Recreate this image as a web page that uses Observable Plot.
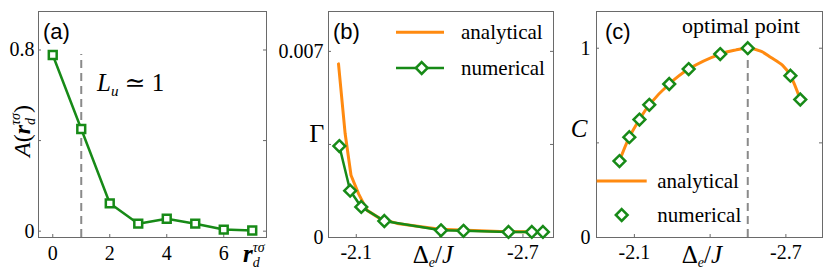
<!DOCTYPE html>
<html><head><meta charset="utf-8">
<script src="https://cdn.jsdelivr.net/npm/d3@7"></script>
<script src="https://cdn.jsdelivr.net/npm/@observablehq/plot@0.6"></script>
<style>
body{margin:0;background:#fff}
#wrap{position:relative;width:830px;height:272px;overflow:hidden;background:#fff}
.panel{position:absolute;top:0}
#wrap svg, #wrap text{font-family:"Liberation Serif","DejaVu Serif",serif}
#wrap text.sans{font-family:"Liberation Sans",Arial,sans-serif}
</style></head><body><div id="wrap"></div>
<script>
// ---------- data ----------
// panel (a)
const aDist = [0, 1, 2, 3, 4, 5, 6, 7];
const aCorr = [0.778, 0.451, 0.123, 0.033, 0.055, 0.033, 0.007, 0.003];
const aXTickLabels = [0, 2, 4, 6];
const aYTickLabels = [0, 0.8];
const aYTickMarks = [0, 0.4, 0.8];
const aLu = [1];
const aLuTop = 0.78;
// panel (b)
const bNumDelta = [-2.039, -2.078, -2.118, -2.201, -2.405, -2.486, -2.648, -2.732, -2.772];
const bNumGamma = [0.00344, 0.00176, 0.00115, 0.00062, 0.00027, 0.00025, 0.00021, 0.00021, 0.00021];
const bAnaDelta = [-2.036, -2.060, -2.081, -2.108, -2.139, -2.186, -2.247, -2.294, -2.402, -2.618, -2.772];
const bAnaGamma = [0.00653, 0.00390, 0.00234, 0.00165, 0.00102, 0.00071, 0.00053, 0.00046, 0.00031, 0.00023, 0.00021];
const bXTickLabels = [-2.1, -2.7];
const bXTickMarks = [-2.1, -2.4, -2.7];
const bYTickLabels = [0, 0.007];
const bYTickMarks = [0, 0.0035, 0.007];
// panel (c)
const cNumDelta = [-2.041, -2.080, -2.120, -2.159, -2.238, -2.315, -2.440, -2.549, -2.718, -2.757];
const cNumC = [0.404, 0.530, 0.623, 0.701, 0.811, 0.890, 0.969, 1.0, 0.855, 0.729];
const cAnaDelta = [-2.041, -2.080, -2.120, -2.159, -2.238, -2.315, -2.440, -2.500, -2.549, -2.600, -2.641, -2.687, -2.718, -2.757];
const cAnaC = [0.404, 0.530, 0.623, 0.701, 0.811, 0.890, 0.969, 0.990, 1.0, 0.985, 0.951, 0.909, 0.855, 0.729];
const cOptimal = [-2.549];
const cXTickLabels = [-2.1, -2.7];
const cXTickMarks = [-2.1, -2.4, -2.7];
const cYTickLabels = [0, 1];
const cYTickMarks = [0, 0.5, 1];

// ---------- style ----------
const GREEN = "#178a17", ORANGE = "#ff8a10", FRAME = "#6a6a6a", DASH = "#8a8a8a";
const SERIF = "Liberation Serif, 'DejaVu Serif', serif";
const SANS = "Liberation Sans, Arial, sans-serif";
const H = 272, MT = 11, MB = 35, IH = H - MT - MB;

const zip = (xs, ys) => xs.map((x, i) => ({x, y: ys[i]}));
const fmt = d => String(d);

function tickMarks(xMarks, yMarks, iw) {
  return [
    Plot.tickX(xMarks, {x: d => d, insetTop: IH - 3, stroke: FRAME}),
    Plot.tickY(yMarks, {y: d => d, insetRight: iw - 3, stroke: FRAME}),
    Plot.tickY(yMarks, {y: d => d, insetLeft: iw - 3, stroke: FRAME})
  ];
}
const baseStyle = {background: "transparent", fontFamily: SERIF, fontSize: "20px", color: "#000", overflow: "visible"};

function place(svg, left) {
  const div = document.createElement("div");
  div.className = "panel";
  div.style.left = left + "px";
  div.appendChild(svg);
  document.getElementById("wrap").appendChild(div);
  return d3.select(svg);
}
function rich(sel, x, y, parts, opts = {}) {
  const t = sel.append("text").attr("x", x).attr("y", y)
    .attr("font-family", opts.family || SERIF).attr("font-size", opts.size || 24)
    .attr("fill", "#000").attr("text-anchor", opts.anchor || "start");
  if (opts.family === SANS) t.attr("class", "sans");
  if (opts.transform) t.attr("transform", opts.transform).attr("x", 0).attr("y", 0);
  if (opts.baseline) t.attr("dominant-baseline", opts.baseline);
  for (const p of parts) {
    const s = t.append("tspan").text(p.t);
    if (p.i) s.attr("font-style", "italic");
    if (p.s) s.attr("font-size", p.s);
    if (p.dy) s.attr("dy", p.dy);
    if (p.dx) s.attr("dx", p.dx);
    if (p.w) s.attr("font-weight", p.w);
  }
  return t;
}

// ---------- panel (a) ----------
{
  const W = 270, ML = 38, MR = 4, IW = W - ML - MR;
  const pts = zip(aDist, aCorr);
  const svg = Plot.plot({
    width: W, height: H, marginLeft: ML, marginRight: MR, marginTop: MT, marginBottom: MB,
    style: baseStyle,
    x: {domain: [-0.5, 7.5], ticks: aXTickLabels, tickSize: 0, tickPadding: 8, tickFormat: fmt, label: null},
    y: {domain: [-0.028, 0.97], ticks: aYTickLabels, tickSize: 0, tickPadding: 4, tickFormat: fmt, label: null},
    marks: [
      Plot.frame({stroke: FRAME}),
      ...tickMarks(aXTickLabels, aYTickMarks, IW),
      Plot.ruleX(aLu, {x: d => d, y1: -0.028, y2: aLuTop, stroke: DASH, strokeWidth: 2, strokeDasharray: "8,5"}),
      Plot.line(pts, {x: "x", y: "y", stroke: GREEN, strokeWidth: 2.5}),
      Plot.dot(pts, {x: "x", y: "y", symbol: "square2", r: 5, stroke: GREEN, strokeWidth: 2.5, fill: "white"})
    ]
  });
  const s = place(svg, 0);
  rich(s, 43, 39, [{t: "(a)"}], {family: SANS, size: 22});
  rich(s, 0, 0, [{t: "A", i: 1}, {t: "("}, {t: "r", i: 1, w: "bold"}, {t: "d", i: 1, s: 14, dy: 5}, {t: "τσ", i: 1, s: 14, dy: -15, dx: -7}, {t: ")", dy: 10}],
    {size: 24, anchor: "middle", transform: "translate(30,131) rotate(-90)"});
  rich(s, 97, 91, [{t: "L", i: 1}, {t: "u", i: 1, s: 15, dy: 5}, {t: " ≃ 1", dy: -5}], {size: 25});
  rich(s, 243, 262, [{t: "r", i: 1, w: "bold"}, {t: "d", i: 1, s: 14, dy: 5}, {t: "τσ", i: 1, s: 14, dy: -15, dx: -7}], {size: 25});
}

// ---------- panel (b) ----------
{
  const W = 290, ML = 58, MR = 7, IW = W - ML - MR;
  const ana = zip(bAnaDelta, bAnaGamma), num = zip(bNumDelta, bNumGamma);
  const svg = Plot.plot({
    width: W, height: H, marginLeft: ML, marginRight: MR, marginTop: MT, marginBottom: MB,
    style: baseStyle,
    x: {domain: [-2.0, -2.81], ticks: bXTickLabels, tickSize: 0, tickPadding: 7, tickFormat: fmt, label: null},
    y: {domain: [0, 0.0085], ticks: bYTickLabels, tickSize: 0, tickPadding: 5, tickFormat: fmt, label: null},
    marks: [
      Plot.frame({stroke: FRAME}),
      ...tickMarks(bXTickMarks, bYTickMarks, IW),
      Plot.line(ana, {x: "x", y: "y", stroke: ORANGE, strokeWidth: 3}),
      Plot.line(num, {x: "x", y: "y", stroke: GREEN, strokeWidth: 2.5}),
      Plot.dot(num, {x: "x", y: "y", symbol: "diamond2", r: 5.3, stroke: GREEN, strokeWidth: 2.5, fill: "white"})
    ]
  });
  const s = place(svg, 270);
  rich(s, 63, 39, [{t: "(b)"}], {family: SANS, size: 22});
  rich(s, 46.7, 141.7, [{t: "Γ"}], {size: 26, anchor: "middle"});
  rich(s, 142.7, 263, [{t: "Δ"}, {t: "e", i: 1, s: 14, dy: 4}, {t: "/", dy: -4}, {t: "J", i: 1}], {size: 25});
  // legend
  s.append("line").attr("x1", 126).attr("x2", 174).attr("y1", 32.3).attr("y2", 32.3).attr("stroke", ORANGE).attr("stroke-width", 3);
  s.append("line").attr("x1", 126).attr("x2", 174).attr("y1", 68).attr("y2", 68).attr("stroke", GREEN).attr("stroke-width", 2.5);
  s.append("path").attr("d", d3.symbol(d3.symbolDiamond2, Math.PI * 5.3 * 5.3)()).attr("transform", "translate(151.7,68)")
    .attr("stroke", GREEN).attr("stroke-width", 2.5).attr("fill", "white");
  rich(s, 191, 32, [{t: "analytical"}], {size: 21, baseline: "central"});
  rich(s, 191, 68, [{t: "numerical"}], {size: 21, baseline: "central"});
}

// ---------- panel (c) ----------
{
  const W = 270, ML = 36, MR = 8, IW = W - ML - MR;
  const ana = zip(cAnaDelta, cAnaC), num = zip(cNumDelta, cNumC);
  const svg = Plot.plot({
    width: W, height: H, marginLeft: ML, marginRight: MR, marginTop: MT, marginBottom: MB,
    style: baseStyle,
    x: {domain: [-1.95, -2.845], ticks: cXTickLabels, tickSize: 0, tickPadding: 7, tickFormat: fmt, label: null},
    y: {domain: [0, 1.194], ticks: cYTickLabels, tickSize: 0, tickPadding: 6, tickFormat: fmt, label: null},
    marks: [
      Plot.frame({stroke: FRAME}),
      ...tickMarks(cXTickMarks, cYTickMarks, IW),
      Plot.ruleX(cOptimal, {x: d => d, y1: 0, y2: 1, stroke: DASH, strokeWidth: 2, strokeDasharray: "8,5"}),
      Plot.line(ana, {x: "x", y: "y", stroke: ORANGE, strokeWidth: 3, curve: "catmull-rom"}),
      Plot.dot(num, {x: "x", y: "y", symbol: "diamond2", r: 5.3, stroke: GREEN, strokeWidth: 2.5, fill: "white"})
    ]
  });
  const s = place(svg, 560);
  rich(s, 45, 39, [{t: "(c)"}], {family: SANS, size: 22});
  rich(s, 181, 33, [{t: "optimal point"}], {size: 22, anchor: "middle"});
  rich(s, 19, 136.7, [{t: "C", i: 1}], {size: 25, anchor: "middle"});
  rich(s, 121.7, 263, [{t: "Δ"}, {t: "e", i: 1, s: 14, dy: 4}, {t: "/", dy: -4}, {t: "J", i: 1}], {size: 25});
  // legend
  s.append("line").attr("x1", 36.7).attr("x2", 86.7).attr("y1", 181).attr("y2", 181).attr("stroke", ORANGE).attr("stroke-width", 3);
  s.append("path").attr("d", d3.symbol(d3.symbolDiamond2, Math.PI * 5.3 * 5.3)()).attr("transform", "translate(61.7,215)")
    .attr("stroke", GREEN).attr("stroke-width", 2.5).attr("fill", "white");
  rich(s, 97.3, 181, [{t: "analytical"}], {size: 21, baseline: "central"});
  rich(s, 97.3, 215, [{t: "numerical"}], {size: 21, baseline: "central"});
}
</script></body></html>
